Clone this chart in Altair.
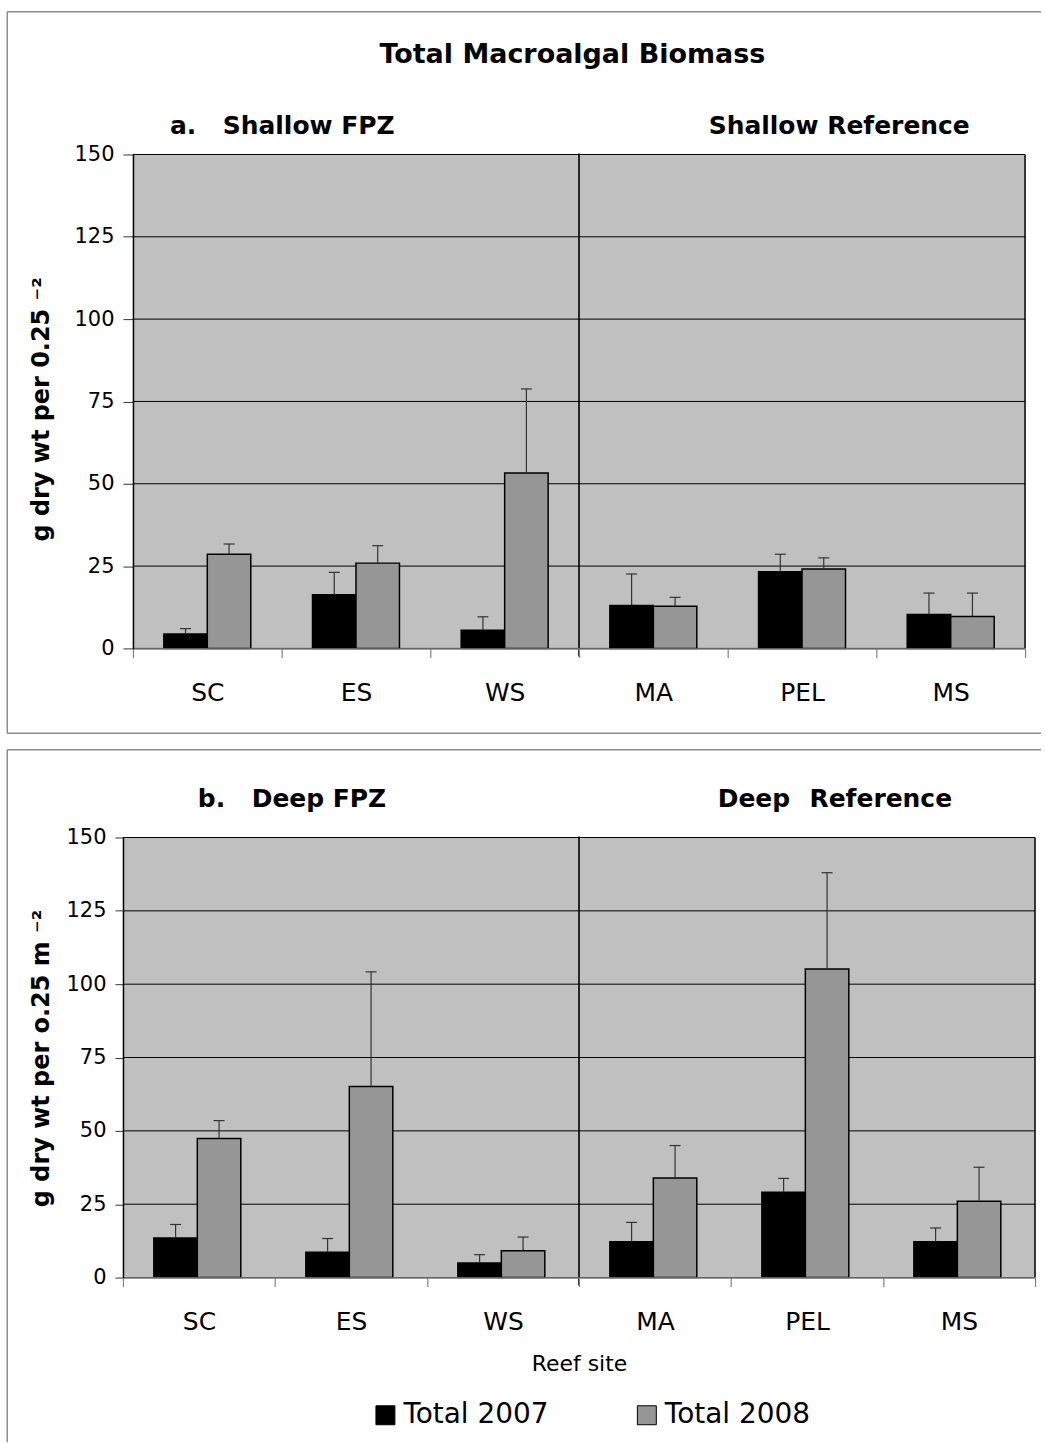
import altair as alt
import pandas as pd

sites = ["SC", "ES", "WS", "MA", "PEL", "MS"]
years = ["Total 2007", "Total 2008"]
y_ticks = [0, 25, 50, 75, 100, 125, 150]

shallow_2007 = [4.4, 16.3, 5.5, 13.0, 23.3, 10.3]
shallow_2007_se = [1.6, 6.8, 4.1, 9.6, 5.3, 6.5]
shallow_2008 = [28.6, 25.9, 53.3, 12.8, 24.1, 9.7]
shallow_2008_se = [3.1, 5.3, 25.5, 2.7, 3.4, 7.1]

deep_2007 = [13.5, 8.6, 5.0, 12.2, 29.1, 12.2]
deep_2007_se = [4.6, 4.7, 2.8, 6.6, 4.7, 4.7]
deep_2008 = [47.4, 65.1, 9.1, 33.9, 105.2, 26.0]
deep_2008_se = [6.1, 39.1, 4.7, 11.1, 32.8, 11.6]

main_title = "Total Macroalgal Biomass"
top_texts = [("a.", 37, -21), ("Shallow FPZ", 90, -21), ("Shallow Reference", 577, -21)]
bottom_texts = [("b.", 65, -31), ("Deep FPZ", 119, -31), ("Deep", 586, -31), ("Reference", 678, -31)]
top_ytitle = "g dry wt per 0.25 \u207b\u00b2"
bottom_ytitle = "g dry wt per o.25 m \u207b\u00b2"
x_title = "Reef site"

FONT = "DejaVu Sans"
BG = "#C0C0C0"
C07 = "#000000"
C08 = "#969696"
FRAME = "#8c8c8c"


def one_row():
    return pd.DataFrame({"k": [0]})


def panel(v07, s07, v08, s08, x0, W, H, ytitle, ytx, yty, ytick, texts, frame, legend, xtitle):
    df = pd.DataFrame({
        "site": sites * 2,
        "year": [years[0]] * 6 + [years[1]] * 6,
        "value": v07 + v08,
        "se": s07 + s08,
    })
    xscale = alt.Scale(domain=sites, paddingInner=0, paddingOuter=0, range=[x0, W])
    xaxis_kw = dict(labelAngle=0, tickBand="extent", tickSize=9, tickColor="#808080",
                    tickWidth=1.2, domainColor="#808080", domainWidth=1.5,
                    labelFont=FONT, labelFontSize=25, labelPadding=23, labelColor="black",
                    grid=False, zindex=1)
    if xtitle:
        xaxis = alt.Axis(title=xtitle, titleFont=FONT, titleFontSize=22, titleFontWeight="normal",
                         titleColor="black", titleBaseline="alphabetic", titleY=93, **xaxis_kw)
    else:
        xaxis = alt.Axis(title=None, **xaxis_kw)
    x = alt.X("site:N", sort=sites, scale=xscale, axis=xaxis)
    xo = alt.XOffset("year:N", sort=years,
                     scale=alt.Scale(domain=years, paddingOuter=0.71, paddingInner=0))
    yscale = alt.Scale(domain=[0, 150], nice=False)
    yaxis = alt.Axis(values=y_ticks, title=ytitle, titleFont=FONT, titleFontSize=24,
                     titleFontWeight="bold", titleColor="black", titleAngle=270,
                     titleX=ytx, titleY=yty, titleAlign="center", titleBaseline="alphabetic",
                     labelFont=FONT, labelFontSize=21, labelColor="black", labelPadding=9,
                     tickSize=ytick, tickColor="#333333", domainColor="black", domainWidth=1.5,
                     grid=False, offset=-x0, zindex=1)
    if legend:
        leg = alt.Legend(orient="none", legendX=239, legendY=565, direction="horizontal",
                         title=None, symbolType="square", symbolSize=361,
                         symbolStrokeColor="black", symbolStrokeWidth=1, symbolOpacity=1,
                         labelFont=FONT, labelFontSize=28, labelColor="black",
                         labelOffset=4, columnPadding=84, padding=0)
    else:
        leg = None
    color = alt.Color("year:N", scale=alt.Scale(domain=years, range=[C07, C08]), legend=leg)

    bg = alt.Chart(one_row()).mark_rect(fill=BG, strokeWidth=0).encode(
        x=alt.value(x0), x2=alt.value(W), y=alt.value(0), y2=alt.value(H))
    grid = alt.Chart(pd.DataFrame({"tick": y_ticks})).mark_rule(color="black", strokeWidth=1).encode(
        y=alt.Y("tick:Q", scale=yscale, axis=yaxis), x=alt.value(x0), x2=alt.value(W))
    bars = alt.Chart(df).mark_bar(stroke="black", strokeWidth=1.5, opacity=1).encode(
        x=x, xOffset=xo, y=alt.Y("value:Q", scale=yscale, axis=yaxis), color=color)
    base_err = alt.Chart(df).transform_calculate(upper="datum.value + datum.se")
    err = base_err.mark_rule(color="#333333", strokeWidth=1.2).encode(
        x=x, xOffset=xo, y=alt.Y("value:Q", scale=yscale, axis=yaxis), y2="upper:Q")
    cap = base_err.mark_tick(color="#333333", thickness=1.2, size=11, opacity=1).encode(
        x=x, xOffset=xo, y=alt.Y("upper:Q", scale=yscale, axis=yaxis))

    sep = alt.Chart(pd.DataFrame({"site": ["MA"]})).mark_rule(color="black", strokeWidth=1.6).encode(
        x=alt.X("site:N", sort=sites, scale=xscale, axis=xaxis, bandPosition=0),
        y=alt.value(-1), y2=alt.value(H + 8))
    right = alt.Chart(one_row()).mark_rule(color="black", strokeWidth=1.5).encode(
        x=alt.value(W), y=alt.value(0), y2=alt.value(H))

    layers = [bg, grid, bars, err, cap, sep, right]
    for t, tx, ty in texts:
        layers.append(alt.Chart(one_row()).mark_text(
            text=t, font=FONT, fontSize=25, fontWeight="bold", align="left",
            baseline="alphabetic", color="black").encode(x=alt.value(tx), y=alt.value(ty)))
    fx1, fx2, fy1, fy2, fbottom = frame
    layers.append(alt.Chart(one_row()).mark_rule(color=FRAME, strokeWidth=1.5).encode(
        x=alt.value(fx1), x2=alt.value(fx2), y=alt.value(fy1)))
    layers.append(alt.Chart(one_row()).mark_rule(color=FRAME, strokeWidth=1.5).encode(
        x=alt.value(fx1), y=alt.value(fy1), y2=alt.value(fy2)))
    if fbottom:
        layers.append(alt.Chart(one_row()).mark_rule(color=FRAME, strokeWidth=1.5).encode(
            x=alt.value(fx1), x2=alt.value(fx2), y=alt.value(fy2)))
    return layers


top_layers = panel(shallow_2007, shallow_2007_se, shallow_2008, shallow_2008_se,
                   0, 894, 495, top_ytitle, -85, 255, 10, top_texts,
                   (-126, 910, -143, 580, True), False, None)
top_layers.append(alt.Chart(one_row()).mark_text(
    text=main_title, font=FONT, fontSize=27, fontWeight="bold", align="left",
    baseline="alphabetic", color="black").encode(x=alt.value(247), y=alt.value(-92)))
top = alt.layer(*top_layers).properties(width=894, height=495)

bottom_layers = panel(deep_2007, deep_2007_se, deep_2008, deep_2008_se,
                      -10, 904, 441, bottom_ytitle, -75, 221, 8, bottom_texts,
                      (-126, 910, -88, 606, False), True, x_title)
bottom = alt.layer(*bottom_layers).properties(width=904, height=441)

chart = alt.vconcat(top, bottom, spacing=14.5).resolve_scale(
    color="independent").resolve_legend(color="independent").properties(
    padding={"left": 6.25, "top": 9.25, "right": 0, "bottom": 0}
).configure(background="white").configure_view(strokeWidth=0)

chart.save("out.html", embed_options={"renderer": "svg", "actions": False})
